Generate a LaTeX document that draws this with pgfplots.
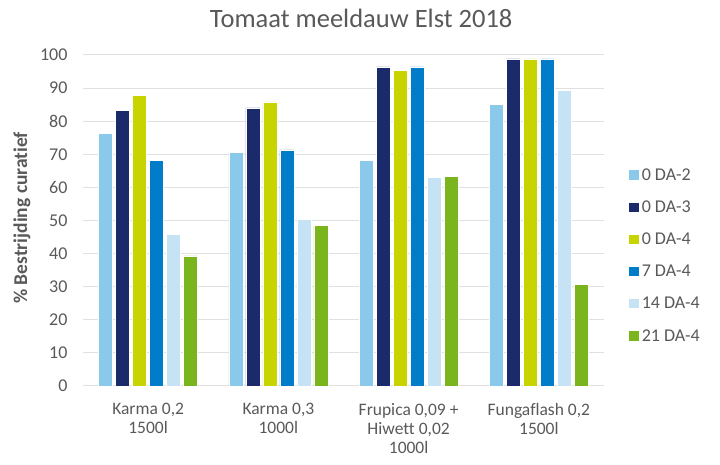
\documentclass[border=0pt]{standalone}
\usepackage{pgfplots}
\pgfplotsset{compat=1.18}
\usepackage{fontspec}
\setmainfont{Carlito}[Ligatures=NoCommon]
\definecolor{txt}{HTML}{595959}
\definecolor{gridc}{HTML}{E0E0E0}
\definecolor{cA}{HTML}{8BC9EB}
\definecolor{cB}{HTML}{1B2A6B}
\definecolor{cC}{HTML}{C8D400}
\definecolor{cD}{HTML}{007CC8}
\definecolor{cE}{HTML}{C5E3F4}
\definecolor{cF}{HTML}{7AB51D}
\begin{document}
\begin{tikzpicture}
\path[use as bounding box] (-83pt,-79pt) rectangle (637pt,386pt);
\begin{axis}[
  at={(0,0)}, anchor=south west,
  scale only axis, width=521pt, height=331pt,
  ybar=3pt, bar width=14pt,
  xmin=-0.5, xmax=3.5, ymin=0, ymax=100,
  xtick={0,1,2,3},
  xticklabels={{Karma 0,2\\1500l},{Karma 0,3\\1000l},{Frupica 0,09 +\\Hiwett 0,02\\1000l},{Fungaflash 0,2\\1500l}},
  xticklabel style={align=center, font=\fontsize{17.5}{19}\selectfont, text=txt, anchor=north, yshift=-14pt},
  ytick={0,10,...,100},
  yticklabel style={font=\fontsize{18}{20}\selectfont, text=txt, xshift=-12pt},
  /pgf/number format/assume math mode=true,
  major tick length=0pt,
  axis line style={draw=none},
  ymajorgrids, grid style={gridc, line width=1pt},
  ylabel={\textbf{\% Bestrijding curatief}},
  every axis y label/.style={at={(axis description cs:-0.117,0.508)}, rotate=90, anchor=center, font=\fontsize{19.5}{22}\selectfont, text=txt},
  title={Tomaat meeldauw Elst 2018},
  every axis title/.style={at={(axis description cs:0.534,1.112)}, anchor=center, font=\fontsize{26.5}{30}\selectfont, text=txt},
  legend style={draw=none, at={(axis description cs:1.046,0.394)}, anchor=west, font=\fontsize{18}{20}\selectfont, text=txt, row sep=14pt, legend cell align=left, inner sep=0pt, nodes={inner sep=2.5pt}},
  legend image code/.code={\fill[#1] (0pt,-5pt) rectangle (10.5pt,5.5pt);},
  every axis plot/.append style={draw=white, line width=0.6pt},
]
\addplot[fill=cA] coordinates {(0,76.3) (1,70.6) (2,68.1) (3,85.0)};
\addplot[fill=cB] coordinates {(0,83.3) (1,84.0) (2,96.4) (3,98.8)};
\addplot[fill=cC] coordinates {(0,87.8) (1,85.8) (2,95.4) (3,98.8)};
\addplot[fill=cD] coordinates {(0,68.1) (1,71.3) (2,96.4) (3,98.8)};
\addplot[fill=cE] coordinates {(0,45.9) (1,50.3) (2,63.0) (3,89.4)};
\addplot[fill=cF] coordinates {(0,39.3) (1,48.6) (2,63.3) (3,30.6)};
\legend{0 DA-2,0 DA-3,0 DA-4,7 DA-4,14 DA-4,21 DA-4}
\end{axis}
\end{tikzpicture}
\end{document}
